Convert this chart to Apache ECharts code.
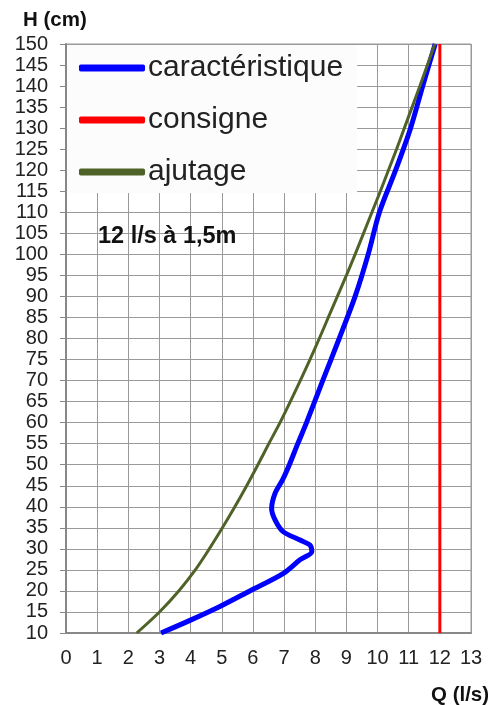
<!DOCTYPE html>
<html>
<head>
<meta charset="utf-8">
<script src="https://cdn.jsdelivr.net/npm/echarts@6/dist/echarts.min.js"></script>
<style>
  html, body { margin: 0; padding: 0; background: #fff; }
  #main { width: 501px; height: 705px; }
</style>
</head>
<body>
<div id="main"></div>
<script>
// H (cm) values and matching flow Q (l/s)
const caracH = [10, 13, 16.3, 20, 24.2, 27.4, 29.3, 30.9, 32.1, 34.1, 36.9, 39.6, 43.2, 46.4, 50, 55, 60, 70, 80, 90, 100, 110, 120, 130, 140, 150];
const caracQ = [3.05, 3.98, 4.94, 5.9, 6.98, 7.51, 7.89, 7.83, 7.51, 6.97, 6.71, 6.6, 6.71, 6.95, 7.17, 7.44, 7.72, 8.24, 8.77, 9.28, 9.7, 10.06, 10.58, 11.06, 11.45, 11.85];

const consigneH = [10, 150];
const consigneQ = [12, 12];

const ajutageH = [10, 15, 20, 25, 30, 35, 40, 45, 50, 55, 60, 65, 70, 75, 80, 85, 90, 95, 100, 105, 110, 115, 120, 125, 130, 135, 140, 145, 150];
const ajutageQ = [2.27, 3.0, 3.62, 4.15, 4.6, 5.02, 5.42, 5.8, 6.16, 6.51, 6.87, 7.2, 7.52, 7.83, 8.13, 8.42, 8.71, 9.0, 9.28, 9.55, 9.82, 10.09, 10.35, 10.61, 10.86, 11.11, 11.36, 11.6, 11.84];

const pairs = (q, h) => q.map((v, i) => [v, h[i]]);

const chart = echarts.init(document.getElementById('main'));
const font = 'Liberation Sans, Arial, sans-serif';

const option = {
  animation: false,
  backgroundColor: '#fff',
  grid: { left: 66, right: 30, top: 44, bottom: 72, show: true, borderColor: '#999', borderWidth: 1 },
  xAxis: {
    type: 'value', min: 0, max: 13, interval: 1,
    axisLine: { lineStyle: { color: '#888', width: 2 } },
    axisTick: { show: false },
    axisLabel: { color: '#222', fontSize: 20, fontFamily: font, margin: 15 },
    splitLine: { lineStyle: { color: '#9a9a9a', width: 1 } }
  },
  yAxis: {
    type: 'value', min: 10, max: 150, interval: 5,
    axisLine: { show: true, lineStyle: { color: '#888', width: 2 } },
    axisTick: { show: true, length: 6, lineStyle: { color: '#888' } },
    axisLabel: { color: '#222', fontSize: 20, fontFamily: font, margin: 18 },
    splitLine: { lineStyle: { color: '#9a9a9a', width: 1 } }
  },
  legend: {
    orient: 'vertical',
    left: 67, top: 45,
    padding: [8, 14, 6, 12],
    backgroundColor: '#fcfcfc',
    itemWidth: 66, itemHeight: 7, itemGap: 22,
    icon: 'roundRect',
    textStyle: { fontSize: 30, fontFamily: font, color: '#222', lineHeight: 30, padding: [0, 0, 0, -2] },
    data: ['caractéristique', 'consigne', 'ajutage']
  },
  graphic: [
    { type: 'text', z: 10, left: 23, top: 10, style: { text: 'H (cm)', font: 'bold 20.5px ' + font, fill: '#111' } },
    { type: 'text', z: 10, left: 431, top: 685, style: { text: 'Q (l/s)', font: 'bold 20.5px ' + font, fill: '#111' } },
    { type: 'text', z: 10, left: 98, top: 225, style: { text: '12 l/s à 1,5m', font: 'bold 23.5px ' + font, fill: '#111' } }
  ],
  series: [
    {
      name: 'caractéristique', type: 'line', data: pairs(caracQ, caracH),
      smooth: 0.3, showSymbol: false, z: 3,
      lineStyle: { color: '#0000ff', width: 5 }, itemStyle: { color: '#0000ff' }
    },
    {
      name: 'consigne', type: 'line', data: pairs(consigneQ, consigneH),
      showSymbol: false,
      lineStyle: { color: '#ff0000', width: 3 }, itemStyle: { color: '#ff0000' }
    },
    {
      name: 'ajutage', type: 'line', data: pairs(ajutageQ, ajutageH),
      smooth: 0.3, showSymbol: false,
      lineStyle: { color: '#4f6228', width: 3 }, itemStyle: { color: '#4f6228' }
    }
  ]
};

chart.setOption(option);
</script>
</body>
</html>
